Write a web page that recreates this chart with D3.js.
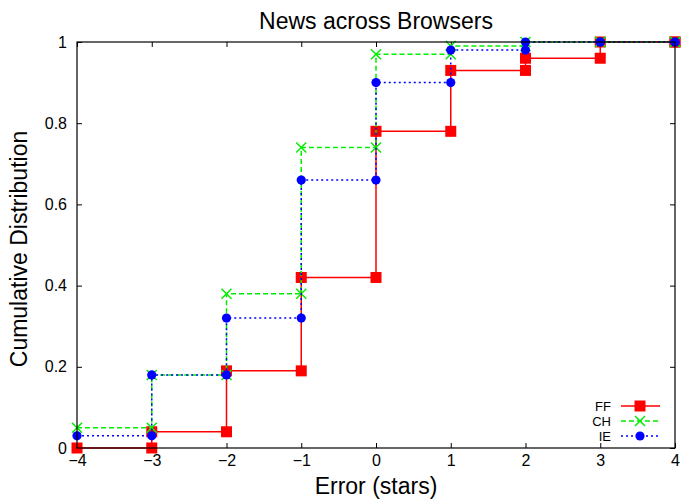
<!DOCTYPE html>
<html>
<head>
<meta charset="utf-8">
<script src="https://cdn.jsdelivr.net/npm/d3@7"></script>
<style>
  body { margin: 0; background: #fff; }
  svg { display: block; font-family: "Liberation Sans", Arial, sans-serif; }
  .axis path { stroke: #000; }
  .axis line { stroke: #000; }
  .axis text { font-size: 16px; fill: #000; font-family: "Liberation Sans", Arial, sans-serif; }
</style>
</head>
<body>
<svg id="chart" width="686" height="499"></svg>
<script>
/* CDF of rating error per browser, step plot */

const errors = [-4, -3, -2, -1, 0, 1, 2, 3, 4];
const ffCdf = [0, 0.04, 0.19, 0.42, 0.78, 0.93, 0.96, 1, 1];
const chCdf = [0.05, 0.18, 0.38, 0.74, 0.97, 0.99, 1, 1, 1];
const ieCdf = [0.03, 0.18, 0.32, 0.66, 0.90, 0.98, 1, 1, 1];
const seriesNames = ["FF", "CH", "IE"];
const yTicks = [0, 0.2, 0.4, 0.6, 0.8, 1];

const box = { left: 77, right: 675, top: 42, bottom: 448 };

const svg = d3.select("#chart");
const x = d3.scaleLinear().domain([-4, 4]).range([box.left, box.right]);
const y = d3.scaleLinear().domain([0, 1]).range([box.bottom, box.top]);

const styles = {
  FF: { color: "#ff0000", dash: null, marker: "square" },
  CH: { color: "#00ee00", dash: "5,3", marker: "cross" },
  IE: { color: "#0000ff", dash: "2,3", marker: "circle" }
};

// corner points of the step: (x_i, y_{i-1}) then (x_i, y_i)
function corners(vals) {
  const pts = [];
  vals.forEach((v, i) => {
    if (i > 0) pts.push([errors[i], vals[i - 1]]);
    pts.push([errors[i], v]);
  });
  return pts;
}

/* ---------- Axes ---------- */

svg.append("g").attr("class", "axis")
  .attr("transform", `translate(0,${box.bottom})`)
  .call(d3.axisBottom(x).tickValues(errors).tickFormat(d3.format("d")).tickSize(-5).tickPadding(7));
svg.append("g").attr("class", "axis")
  .attr("transform", `translate(0,${box.top})`)
  .call(d3.axisTop(x).tickValues(errors).tickFormat("").tickSize(-5));
svg.append("g").attr("class", "axis")
  .attr("transform", `translate(${box.left},0)`)
  .call(d3.axisLeft(y).tickValues(yTicks).tickFormat((d) => d === 0 || d === 1 ? d3.format("d")(d) : d3.format(".1f")(d)).tickSize(-5).tickPadding(10));
svg.append("g").attr("class", "axis")
  .attr("transform", `translate(${box.right},0)`)
  .call(d3.axisRight(y).tickValues(yTicks).tickFormat("").tickSize(-5));
svg.selectAll(".axis path.domain").remove();

/* ---------- Series ---------- */

function drawMarker(g, kind, color, px, py) {
  if (kind === "square") {
    g.append("rect").attr("x", px - 5.5).attr("y", py - 5.5)
      .attr("width", 11).attr("height", 11).attr("fill", color);
  } else if (kind === "cross") {
    const s = 5;
    g.append("path").attr("d", `M${px - s},${py - s}L${px + s},${py + s}M${px - s},${py + s}L${px + s},${py - s}`)
      .attr("stroke", color).attr("stroke-width", 1.5).attr("fill", "none");
  } else {
    g.append("circle").attr("cx", px).attr("cy", py).attr("r", 4.6).attr("fill", color);
  }
}

const line = d3.line().x((d) => x(d[0])).y((d) => y(d[1]));
const data = { FF: ffCdf, CH: chCdf, IE: ieCdf };

seriesNames.forEach((name) => {
  const st = styles[name];
  const pts = corners(data[name]);
  const g = svg.append("g");
  g.append("path").datum(pts).attr("d", line)
    .attr("fill", "none").attr("stroke", st.color).attr("stroke-width", 1.5)
    .attr("stroke-dasharray", st.dash);
  pts.forEach((p) => drawMarker(g, st.marker, st.color, x(p[0]), y(p[1])));
});

/* ---------- Frame, legend, labels ---------- */

svg.append("rect")
  .attr("x", box.left).attr("y", box.top)
  .attr("width", box.right - box.left).attr("height", box.bottom - box.top)
  .attr("fill", "none").attr("stroke", "#000").attr("stroke-width", 1.2);

const legend = svg.append("g");
seriesNames.forEach((name, i) => {
  const st = styles[name];
  const ly = 406 + i * 15;
  legend.append("text").attr("x", 611).attr("y", ly).attr("dy", "0.35em")
    .attr("text-anchor", "end").attr("font-size", 13).text(name);
  legend.append("line").attr("x1", 621).attr("x2", 660).attr("y1", ly).attr("y2", ly)
    .attr("stroke", st.color).attr("stroke-width", 1.5).attr("stroke-dasharray", st.dash);
  drawMarker(legend, st.marker, st.color, 640, ly);
});

svg.append("text").attr("x", 376).attr("y", 29).attr("text-anchor", "middle")
  .attr("font-size", 23).text("News across Browsers");
svg.append("text").attr("x", 376).attr("y", 494).attr("text-anchor", "middle")
  .attr("font-size", 23).text("Error (stars)");
svg.append("text").attr("transform", "translate(27,249) rotate(-90)").attr("text-anchor", "middle")
  .attr("font-size", 23).text("Cumulative Distribution");
</script>
</body>
</html>
